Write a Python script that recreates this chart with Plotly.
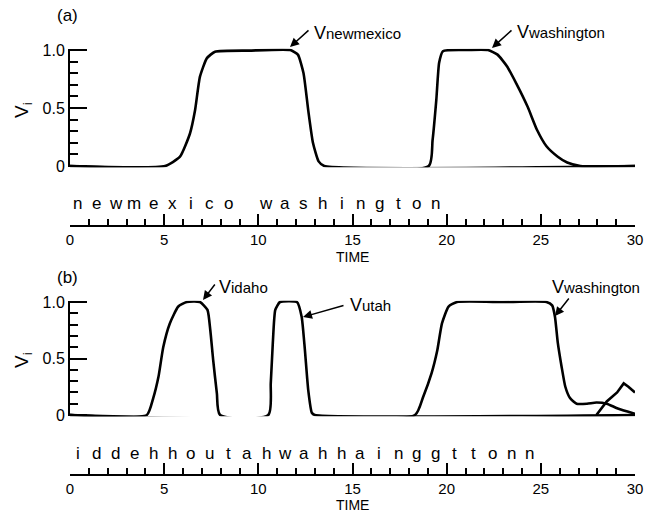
import plotly.graph_objects as go

# ---------------- data ----------------
# Panel (a)
a_newmexico_t = [0, 5.05, 5.84, 6.37, 6.64, 6.9, 7.27, 7.7, 9.5, 11.7, 12.1, 12.4, 12.65, 12.9, 13.2, 13.5, 30]
a_newmexico_v = [0, 0, 0.08, 0.28, 0.48, 0.77, 0.93, 0.985, 0.995, 1.0, 0.96, 0.8, 0.48, 0.2, 0.04, 0, 0]

a_washington_t = [0, 19.05, 19.25, 19.45, 19.6, 19.8, 21.0, 22.2, 22.7, 23.2, 23.7, 24.3, 24.8, 25.3, 25.9, 26.4, 27.1, 30]
a_washington_v = [0, 0, 0.22, 0.57, 0.89, 0.99, 1.0, 1.0, 0.96, 0.86, 0.71, 0.51, 0.31, 0.17, 0.08, 0.03, 0, 0]

# Panel (b)
b_idaho_t = [0, 4.08, 4.42, 4.7, 4.95, 5.3, 5.75, 6.2, 6.9, 7.3, 7.45, 7.6, 7.8, 7.97, 30]
b_idaho_v = [0, 0, 0.15, 0.34, 0.6, 0.81, 0.96, 1.0, 1.0, 0.93, 0.75, 0.49, 0.19, 0, 0]

b_utah_t = [0, 10.53, 10.66, 10.77, 10.9, 11.15, 12.05, 12.3, 12.47, 12.65, 12.84, 13.0, 30]
b_utah_v = [0, 0, 0.28, 0.64, 0.93, 1.0, 1.0, 0.87, 0.58, 0.22, 0.02, 0, 0]

b_washington_t = [0, 18.32, 18.75, 19.2, 19.5, 19.75, 20.1, 20.55, 23.0, 25.3, 25.6, 25.75, 25.9,
                  26.1, 26.3, 26.55, 26.9, 27.45, 27.95, 28.5, 29.05, 29.6, 30]
b_washington_v = [0, 0, 0.16, 0.37, 0.57, 0.81, 0.96, 1.0, 1.0, 1.0, 0.97, 0.87, 0.64,
                  0.43, 0.25, 0.15, 0.1, 0.1, 0.11, 0.1, 0.06, 0.03, 0.01]

b_tonn_t = [27.95, 28.5, 29.05, 29.4, 29.65, 30]
b_tonn_v = [0, 0.12, 0.2, 0.28, 0.25, 0.2]

a_letters = list("newmexico washington")
b_letters = list("iddehhoutahwahhainggttonn")
letter_offset = 0.42

x_tickvals = [0, 5, 10, 15, 20, 25, 30]
y_tickvals = [0, 0.5, 1.0]
y_ticktext = ["0", "0.5", "1.0"]

# ---------------- figure ----------------
W, H = 651, 512
FONT = "Liberation Sans, Arial, sans-serif"

def px_x(p):
    return p / W

def px_y(p):
    return 1 - p / H

fig = go.Figure()
line = dict(color="black", width=2.6, shape="spline", smoothing=0.5)

for t, v in [(a_newmexico_t, a_newmexico_v), (a_washington_t, a_washington_v)]:
    fig.add_trace(go.Scatter(x=t, y=v, mode="lines", line=line, xaxis="x", yaxis="y",
                             showlegend=False, hoverinfo="skip"))
for t, v in [(b_idaho_t, b_idaho_v), (b_utah_t, b_utah_v), (b_washington_t, b_washington_v)]:
    fig.add_trace(go.Scatter(x=t, y=v, mode="lines", line=line, xaxis="x2", yaxis="y2",
                             showlegend=False, hoverinfo="skip"))
fig.add_trace(go.Scatter(x=b_tonn_t, y=b_tonn_v, mode="lines",
                         line=dict(color="black", width=2.6, shape="linear"),
                         xaxis="x2", yaxis="y2", showlegend=False, hoverinfo="skip"))

xdom = [px_x(70), px_x(635)]

def xaxis_cfg(pos):
    return dict(
        domain=xdom, range=[0, 30], anchor="free", position=pos, automargin=False,
        showline=True, linecolor="black", linewidth=2,
        ticks="inside", tickvals=x_tickvals, ticklen=11, tickwidth=1.5, tickcolor="black",
        minor=dict(ticks="inside", dtick=1, tick0=0, ticklen=6, tickwidth=1.5, tickcolor="black"),
        tickfont=dict(family=FONT, size=15, color="black"),
        showgrid=False, zeroline=False,
    )

def yaxis_cfg(dom, anchor_x):
    return dict(
        domain=dom, range=[-0.01, 1.01], anchor=anchor_x, automargin=False,
        showline=True, linecolor="black", linewidth=2,
        ticks="inside", tickvals=y_tickvals, ticktext=y_ticktext,
        ticklen=17, tickwidth=2, tickcolor="black",
        minor=dict(ticks="inside", dtick=0.1, tick0=0, ticklen=8, tickwidth=1.5, tickcolor="black"),
        tickfont=dict(family=FONT, size=16, color="black"),
        showgrid=False, zeroline=False,
    )

# panel a: 1.0 at y=50px, 0 at y=166px ; panel b: 1.0 at 302, 0 at 415
def ydom(p1, p0):
    span = p0 - p1
    top = p1 - 0.01 * span
    bot = p0 + 0.01 * span
    return [px_y(bot), px_y(top)]

fig.update_layout(
    template="none",
    width=W, height=H,
    margin=dict(l=0, r=0, t=0, b=0, pad=0),
    paper_bgcolor="white", plot_bgcolor="white",
    xaxis=xaxis_cfg(px_y(226)),
    yaxis=yaxis_cfg(ydom(50, 166), "x"),
    xaxis2=xaxis_cfg(px_y(475)),
    yaxis2=yaxis_cfg(ydom(302, 415), "x2"),
)

ann = []
txtfont = dict(family=FONT, size=17, color="black")

# letter rows
for i, ch in enumerate(a_letters):
    if ch.strip():
        ann.append(dict(x=i + letter_offset, y=px_y(203), xref="x", yref="paper", text=ch,
                        showarrow=False, font=txtfont, xanchor="center", yanchor="middle"))
for i, ch in enumerate(b_letters):
    ann.append(dict(x=i + letter_offset, y=px_y(453), xref="x2", yref="paper", text=ch,
                    showarrow=False, font=txtfont, xanchor="center", yanchor="middle"))

# TIME labels
for yy in (257, 505):
    ann.append(dict(x=px_x(353), y=px_y(yy), xref="paper", yref="paper", text="TIME",
                    showarrow=False, font=dict(family=FONT, size=14, color="black"),
                    xanchor="center", yanchor="middle"))

# panel letters
for txt, yy in (("(a)", 15), ("(b)", 277)):
    ann.append(dict(x=px_x(67), y=px_y(yy), xref="paper", yref="paper", text=txt, showarrow=False,
                    xanchor="center", yanchor="middle",
                    font=dict(family=FONT, size=17, color="black")))

# y labels
for yy in (110, 360):
    ann.append(dict(x=px_x(23), y=px_y(yy), xref="paper", yref="paper",
                    text="V<sub>i</sub>", textangle=-90, showarrow=False,
                    xanchor="center", yanchor="middle",
                    font=dict(family=FONT, size=19, color="black")))

# curve labels: (name, text left px, text centre y px, head px x, head px y, tail px x, tail px y)
labels = [
    ("newmexico", 312, 33, 290, 47, 310, 29),
    ("washington", 515, 32, 492, 48, 513, 29),
    ("idaho", 217, 287, 203, 300, 216, 283),
    ("utah", 348, 305, 303, 317, 345, 305),
    ("washington", 550, 287, 555, 316, 570, 297),
]
for name, tx, ty, hx, hy, sx, sy in labels:
    ann.append(dict(x=px_x(tx), y=px_y(ty), xref="paper", yref="paper",
                    text="<span style='font-size:18px'>V</span>" + name,
                    showarrow=False, xanchor="left", yanchor="middle",
                    font=dict(family=FONT, size=15, color="black")))
    ann.append(dict(x=px_x(hx), y=px_y(hy), xref="paper", yref="paper",
                    ax=sx - hx, ay=sy - hy, axref="pixel", ayref="pixel",
                    text="", showarrow=True, arrowhead=2, arrowsize=1.2, arrowwidth=1.5,
                    arrowcolor="black", standoff=0, startstandoff=0))

fig.update_layout(annotations=ann)
fig.write_html("out.html", config={"displayModeBar": False},
               post_script="document.body.style.margin='0';")
